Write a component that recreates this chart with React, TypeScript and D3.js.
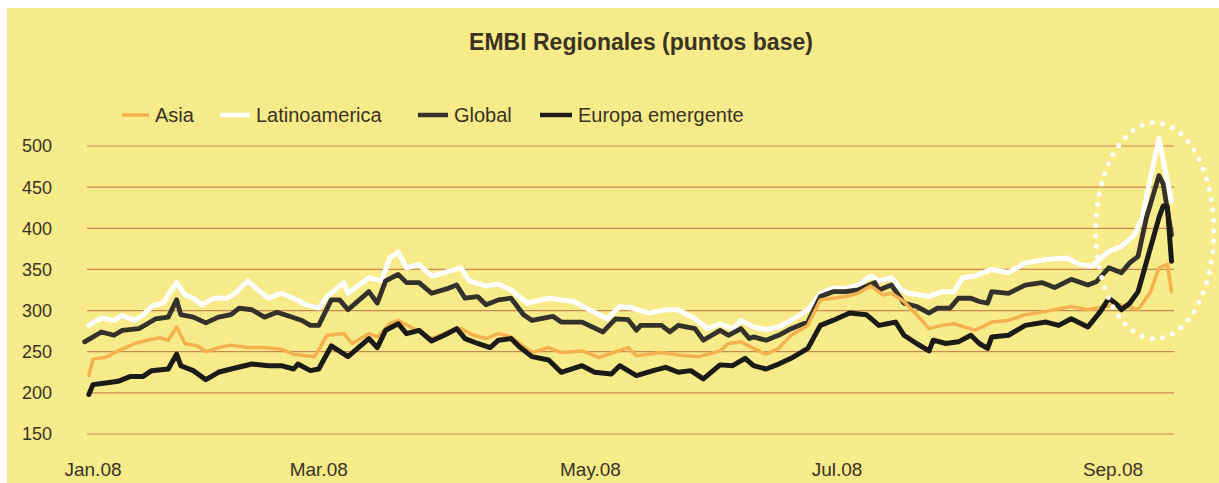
import * as d3 from "d3";

// EMBI regional spreads, basis points; x = days since 1 Jan 2008
const seriesNames = ["Asia", "Latinoamerica", "Global", "Europa emergente"];
const yTicks = [150, 200, 250, 300, 350, 400, 450, 500];
const tickDays = [0, 54, 119, 178, 244];
const tickLabels = ["Jan.08", "Mar.08", "May.08", "Jul.08", "Sep.08"];

const asia: [number, number][] = [
  [-1, 221], [0, 241], [3, 243], [6, 251], [10, 260], [13, 264], [16, 267], [18, 264], [20, 280], [22, 260],
  [25, 257], [27, 250], [30, 255], [33, 258], [37, 255], [41, 255], [45, 253], [48, 247], [53, 244], [56, 270],
  [60, 272], [62, 260], [66, 272], [68, 268], [71, 284], [73, 288], [76, 280], [79, 272], [81, 266], [85, 274],
  [88, 278], [91, 270], [94, 266], [97, 272], [100, 268], [102, 260], [105, 249], [109, 255], [112, 249], [117, 251],
  [121, 243], [128, 255], [130, 245], [136, 249], [140, 246], [145, 244], [150, 251], [152, 260], [155, 262], [158, 254],
  [161, 247], [164, 254], [167, 270], [171, 282], [174, 313], [177, 315], [180, 317], [183, 321], [186, 330], [189, 319],
  [191, 321], [194, 311], [197, 295], [200, 278], [203, 282], [206, 284], [211, 276], [215, 286], [219, 288], [223, 295],
  [228, 299], [234, 305], [238, 301], [242, 305], [246, 307], [250, 301], [253, 323], [255, 352], [257, 356], [258, 323],
];

const latinoamerica: [number, number][] = [
  [-1, 282], [2, 291], [5, 288], [7, 294], [10, 288], [12, 295], [14, 305], [17, 310], [18, 319], [20, 334],
  [22, 319], [24, 315], [26, 307], [29, 315], [32, 315], [34, 321], [37, 336], [39, 327], [42, 315], [45, 321],
  [48, 315], [51, 307], [54, 303], [56, 317], [60, 334], [61, 321], [66, 340], [69, 336], [71, 364], [73, 371],
  [75, 352], [78, 356], [81, 342], [84, 346], [88, 352], [90, 336], [94, 330], [97, 332], [100, 325], [104, 309],
  [109, 315], [115, 311], [118, 303], [123, 290], [126, 305], [129, 303], [133, 297], [137, 301], [140, 301], [144, 290],
  [147, 278], [150, 284], [153, 278], [155, 288], [158, 280], [161, 277], [164, 280], [167, 288], [171, 301], [174, 321],
  [177, 327], [180, 327], [183, 331], [186, 342], [188, 336], [191, 340], [193, 327], [195, 321], [200, 317], [203, 323],
  [206, 323], [208, 340], [211, 342], [215, 350], [219, 346], [223, 358], [228, 362], [233, 364], [236, 356], [239, 354],
  [243, 372], [246, 378], [249, 391], [251, 413], [253, 462], [255, 509], [257, 458], [258, 433],
];

const global: [number, number][] = [
  [-2, 262], [2, 274], [5, 270], [7, 276], [11, 278], [13, 284], [15, 290], [18, 292], [20, 313], [21, 295],
  [24, 292], [27, 285], [30, 292], [33, 295], [35, 303], [38, 301], [41, 292], [44, 298], [47, 293], [50, 288],
  [52, 282], [54, 282], [57, 313], [59, 313], [61, 301], [66, 323], [68, 309], [70, 336], [73, 344], [75, 334],
  [78, 334], [81, 321], [85, 327], [87, 331], [89, 315], [92, 317], [94, 307], [97, 313], [100, 315], [103, 295],
  [105, 288], [110, 293], [112, 286], [117, 286], [122, 274], [125, 290], [128, 289], [130, 276], [131, 282], [136, 282],
  [138, 274], [140, 282], [144, 278], [146, 264], [150, 276], [152, 270], [155, 278], [157, 266], [158, 268], [161, 264],
  [164, 270], [167, 278], [171, 286], [174, 317], [177, 323], [180, 323], [183, 325], [187, 334], [188, 325], [191, 331],
  [194, 309], [197, 305], [200, 297], [202, 303], [205, 303], [207, 315], [210, 315], [212, 311], [214, 309], [215, 323],
  [219, 321], [223, 331], [227, 334], [230, 328], [234, 338], [238, 331], [240, 335], [243, 352], [246, 346], [248, 358],
  [250, 366], [252, 413], [255, 464], [256, 454], [258, 392],
];

const europaEmergente: [number, number][] = [
  [-1, 198], [0, 210], [3, 212], [6, 214], [9, 220], [12, 220], [14, 227], [18, 229], [20, 247], [21, 233],
  [24, 227], [27, 216], [30, 225], [33, 229], [38, 235], [42, 233], [45, 233], [48, 229], [49, 235], [52, 227],
  [54, 229], [57, 257], [61, 244], [66, 266], [68, 255], [70, 276], [73, 284], [75, 272], [78, 276], [81, 263],
  [84, 270], [87, 278], [89, 266], [92, 260], [95, 255], [97, 264], [100, 266], [102, 256], [105, 244], [109, 240],
  [112, 225], [117, 233], [120, 225], [124, 223], [126, 233], [130, 221], [134, 227], [137, 231], [140, 225], [143, 227],
  [146, 217], [150, 234], [153, 233], [156, 242], [158, 233], [161, 229], [164, 235], [167, 242], [171, 254], [174, 282],
  [177, 288], [181, 297], [185, 295], [188, 282], [190, 284], [192, 286], [194, 270], [197, 260], [200, 251], [201, 264],
  [204, 260], [207, 262], [210, 270], [212, 260], [214, 254], [215, 268], [219, 270], [223, 282], [228, 286], [231, 282],
  [234, 290], [238, 280], [241, 299], [243, 315], [245, 307], [246, 301], [248, 309], [250, 323], [252, 359], [255, 413],
  [256, 427], [257, 426], [258, 360],
];

const seriesColors = ["#f4b24e", "#ffffff", "#34312a", "#1c1a15"];
const seriesWidths = [3.5, 5, 4.8, 5];

export default function App() {
  const width = 1219;
  const height = 483;
  const gridLeft = 87;
  const gridRight = 1174;
  const font = "'Liberation Sans', Arial, sans-serif";
  const ink = "#3b3222";

  const x = d3.scaleLinear().domain([0, 244]).range([93, 1113]);
  const y = d3.scaleLinear().domain([150, 500]).range([434, 146]);

  const line = d3
    .line<[number, number]>()
    .x((d) => x(d[0]))
    .y((d) => y(d[1]));

  const data = [asia, latinoamerica, global, europaEmergente];
  // drawing order: white below, dark lines on top
  const drawOrder = [1, 2, 0, 3];

  const legendX = [122, 220, 418, 540];
  const legendLen = [27, 30, 30, 32];

  return (
    <svg
      width={width}
      height={height}
      style={{ position: "absolute", left: 0, top: 0 }}
      fontFamily={font}
    >
      <rect x={0} y={0} width={width} height={height} fill="#ffffff" />
      <rect x={7} y={8} width={width - 7} height={height - 8} fill="#f8eb8a" />

      <text x={641} y={50} textAnchor="middle" fontSize={23} fontWeight="bold" fill={ink}>
        EMBI Regionales (puntos base)
      </text>

      {seriesNames.map((name, i) => (
        <g key={name}>
          <line
            x1={legendX[i]}
            x2={legendX[i] + legendLen[i]}
            y1={115}
            y2={115}
            stroke={seriesColors[i]}
            strokeWidth={i === 0 ? 3.5 : 4.5}
          />
          <text x={legendX[i] + legendLen[i] + 6} y={122} fontSize={20} fill={ink}>
            {name}
          </text>
        </g>
      ))}

      {yTicks.map((t) => (
        <g key={t}>
          <line x1={gridLeft} x2={gridRight} y1={y(t)} y2={y(t)} stroke="#c98a52" strokeWidth={1.2} />
          <text x={52} y={y(t)} dy="0.36em" textAnchor="end" fontSize={18} fill={ink}>
            {t}
          </text>
        </g>
      ))}

      {tickDays.map((d, i) => (
        <text key={tickLabels[i]} x={x(d)} y={476} textAnchor="middle" fontSize={19} fill={ink}>
          {tickLabels[i]}
        </text>
      ))}

      {drawOrder.map((i) => (
        <path
          key={seriesNames[i]}
          d={line(data[i]) ?? ""}
          fill="none"
          stroke={seriesColors[i]}
          strokeWidth={seriesWidths[i]}
          strokeLinejoin="round"
          strokeLinecap="round"
        />
      ))}

      <ellipse
        cx={x(254)}
        cy={y(397)}
        rx={59}
        ry={108}
        fill="none"
        stroke="#ffffff"
        strokeWidth={5}
        strokeDasharray="0 10.5"
        strokeLinecap="round"
      />
    </svg>
  );
}
